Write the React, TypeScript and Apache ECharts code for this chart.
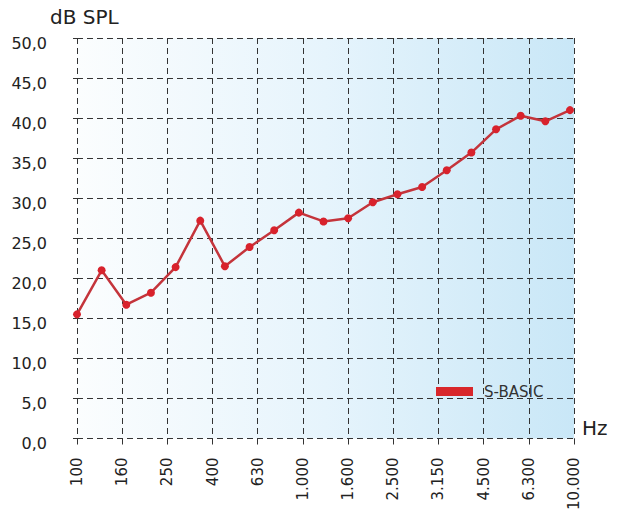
import React, { useEffect, useRef } from "react";
import * as echarts from "echarts";

const frequencies = ["100", "125", "160", "200", "250", "315", "400", "500", "630", "800", "1.000", "1.250", "1.600", "2.000", "2.500", "3.150", "4.000", "5.000", "6.300", "8.000", "10.000"];
const splValues = [15.5, 21.0, 16.7, 18.2, 21.4, 27.2, 21.5, 23.9, 26.0, 28.2, 27.1, 27.5, 29.5, 30.5, 31.4, 33.5, 35.7, 38.6, 40.3, 39.6, 41.0];
const tickLabels = ["100", "160", "250", "400", "630", "1.000", "1.600", "2.500", "3.150", "4.500", "6.300", "10.000"];
const seriesName = "S-BASIC";
const yUnit = "dB SPL";
const xUnit = "Hz";

const FONT = "DejaVu Sans";

export default function App() {
  const ref = useRef<HTMLDivElement>(null);
  useEffect(() => {
    if (!ref.current) return;
    const chart = echarts.init(ref.current, null, { renderer: "svg" });
    const lastIndex = frequencies.length - 1;
    chart.setOption({
      animation: false,
      backgroundColor: "#ffffff",
      grid: {
        left: 77,
        right: 49,
        top: 38,
        bottom: 74,
        show: true,
        borderWidth: 0,
        backgroundColor: new echarts.graphic.LinearGradient(0, 0, 1, 0, [
          { offset: 0, color: "#fbfdfe" },
          { offset: 0.5, color: "#e6f4fc" },
          { offset: 1, color: "#c9e7f7" },
        ]),
      },
      legend: {
        show: true,
        left: 436,
        top: 384,
        padding: 0,
        itemWidth: 37,
        itemHeight: 9,
        icon: "rect",
        data: [{ name: seriesName, itemStyle: { color: "#d8272b" } }],
        textStyle: { fontFamily: FONT, fontSize: 15, color: "#333", padding: [0, 0, 0, 6] },
      },
      graphic: [
        {
          type: "text",
          left: 50,
          top: 7,
          style: { text: yUnit, font: `20px "${FONT}"`, fill: "#222" },
        },
        {
          type: "text",
          left: 582,
          top: 418,
          style: { text: xUnit, font: `20px "${FONT}"`, fill: "#222" },
        },
      ],
      xAxis: [
        {
          type: "category",
          data: tickLabels,
          boundaryGap: false,
          axisLine: { show: false },
          axisTick: {
            show: true,
            length: 8,
            alignWithLabel: true,
            lineStyle: { color: "#333", type: [6, 4] },
          },
          axisLabel: {
            interval: 0,
            rotate: 90,
            margin: 19,
            fontFamily: FONT,
            fontSize: 15,
            color: "#222",
          },
          splitLine: { show: true, lineStyle: { color: "#333", type: [6, 4], width: 1 } },
        },
        {
          type: "value",
          show: false,
          min: 0,
          max: (lastIndex * 497) / 493,
        },
      ],
      yAxis: {
        type: "value",
        min: 0,
        max: 50,
        interval: 5,
        axisLine: { show: false },
        axisTick: { show: true, length: 4, lineStyle: { color: "#333", type: [6, 4] } },
        axisLabel: {
          margin: 30,
          fontFamily: FONT,
          fontSize: 16,
          color: "#222",
          verticalAlign: "top",
          lineHeight: 10,
          formatter: (v: number) => v.toFixed(1).replace(".", ","),
        },
        splitLine: { show: true, lineStyle: { color: "#333", type: [6, 4], width: 1 } },
      },
      series: [
        {
          name: seriesName,
          type: "line",
          xAxisIndex: 1,
          data: splValues.map((v, i) => ({ value: [i, v], name: frequencies[i] })),
          symbol: "circle",
          symbolSize: 8,
          lineStyle: { color: "#c4343b", width: 2.5 },
          itemStyle: { color: "#d8222c" },
          z: 5,
        },
      ],
    });
    return () => chart.dispose();
  }, []);
  return (
    <div
      ref={ref}
      style={{ position: "fixed", left: 0, top: 0, width: 623, height: 513 }}
    />
  );
}
